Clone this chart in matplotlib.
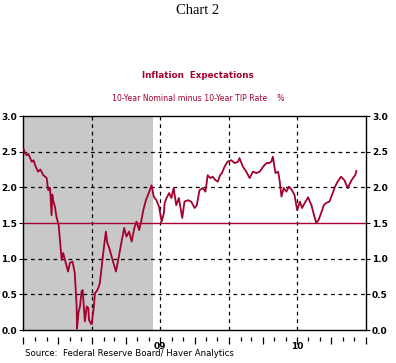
import pandas as pd
import matplotlib
matplotlib.use("Agg")
import matplotlib.pyplot as plt
import matplotlib.dates as mdates
import matplotlib.transforms as mtransforms

# 10-year nominal minus 10-year TIPS yield (%)
dates = [
    "2008-07-02", "2008-07-05", "2008-07-09", "2008-07-14", "2008-07-23", "2008-07-28",
    "2008-08-01", "2008-08-09", "2008-08-15", "2008-08-23", "2008-09-01", "2008-09-05",
    "2008-09-10", "2008-09-14", "2008-09-16", "2008-09-18", "2008-09-23", "2008-09-27",
    "2008-10-03", "2008-10-08", "2008-10-11", "2008-10-15", "2008-10-22", "2008-10-28",
    "2008-11-02", "2008-11-09", "2008-11-15", "2008-11-20", "2008-11-21", "2008-11-25",
    "2008-11-29", "2008-12-03", "2008-12-06", "2008-12-10", "2008-12-12", "2008-12-17",
    "2008-12-21", "2008-12-23", "2008-12-27", "2008-12-30", "2009-01-05", "2009-01-08",
    "2009-01-12", "2009-01-17", "2009-01-21", "2009-01-30", "2009-02-06", "2009-02-10",
    "2009-02-15", "2009-02-24", "2009-03-05", "2009-03-11", "2009-03-20", "2009-03-27",
    "2009-04-02", "2009-04-09", "2009-04-16", "2009-04-23", "2009-04-29", "2009-05-06",
    "2009-05-12", "2009-05-17", "2009-05-24", "2009-06-02", "2009-06-08", "2009-06-14",
    "2009-06-21", "2009-06-28", "2009-07-05", "2009-07-11", "2009-07-13", "2009-07-18",
    "2009-07-22", "2009-07-25", "2009-07-31", "2009-08-06", "2009-08-13", "2009-08-20",
    "2009-08-29", "2009-09-04", "2009-09-13", "2009-09-22", "2009-10-01", "2009-10-07",
    "2009-10-14", "2009-10-23", "2009-10-30", "2009-11-05", "2009-11-12", "2009-11-18",
    "2009-11-26", "2009-12-02", "2009-12-08", "2009-12-13", "2009-12-20", "2009-12-28",
    "2010-01-07", "2010-01-16", "2010-01-25", "2010-01-29", "2010-02-07", "2010-02-16",
    "2010-02-25", "2010-03-06", "2010-03-15", "2010-03-24", "2010-04-02", "2010-04-11",
    "2010-04-18", "2010-04-24", "2010-04-28", "2010-05-05", "2010-05-12", "2010-05-16",
    "2010-05-21", "2010-05-27", "2010-06-03", "2010-06-10", "2010-06-18", "2010-06-25",
    "2010-07-02", "2010-07-09", "2010-07-15", "2010-07-22", "2010-07-31", "2010-08-09",
    "2010-08-16", "2010-08-22", "2010-08-28", "2010-09-04", "2010-09-11", "2010-09-17",
    "2010-09-26", "2010-10-05", "2010-10-11", "2010-10-18", "2010-10-27", "2010-11-05",
    "2010-11-14", "2010-11-22", "2010-11-28", "2010-12-04", "2010-12-07",
]
spread = [
    2.53, 2.48, 2.45, 2.47, 2.36, 2.38,
    2.31, 2.22, 2.25, 2.17, 2.13, 1.96,
    1.99, 1.61, 1.90, 1.82, 1.73, 1.59,
    1.47, 1.17, 0.98, 1.08, 0.94, 0.82,
    0.94, 0.96, 0.80, 0.33, 0.02, 0.25,
    0.33, 0.54, 0.56, 0.28, 0.12, 0.33,
    0.31, 0.14, 0.10, 0.08, 0.33, 0.52,
    0.54, 0.59, 0.66, 1.08, 1.38, 1.22,
    1.15, 0.98, 0.82, 0.98, 1.24, 1.43,
    1.31, 1.38, 1.24, 1.43, 1.52, 1.40,
    1.54, 1.68, 1.82, 1.94, 2.03, 1.87,
    1.82, 1.73, 1.52, 1.64, 1.78, 1.85,
    1.89, 1.92, 1.85, 1.99, 1.75, 1.85,
    1.57, 1.80, 1.82, 1.80, 1.71, 1.75,
    1.96, 1.99, 1.94, 2.17, 2.13, 2.15,
    2.10, 2.08, 2.17, 2.20, 2.29, 2.36,
    2.38, 2.34, 2.36, 2.41, 2.29, 2.22,
    2.13, 2.22, 2.20, 2.22, 2.29, 2.34,
    2.34, 2.36, 2.43, 2.20, 2.22, 2.10,
    1.87, 1.99, 1.94, 2.01, 1.96, 1.89,
    1.68, 1.80, 1.71, 1.78, 1.86, 1.75,
    1.61, 1.50, 1.54, 1.64, 1.75, 1.78,
    1.80, 1.92, 2.01, 2.08, 2.15, 2.10,
    1.99, 2.08, 2.13, 2.17, 2.23,
]
recession = ("2008-07-01", "2009-06-12")
ref_level = 1.5
year_labels = ["09", "10"]
year_label_dates = ["2009-07-01", "2010-07-01"]

red = "#a3002d"
x = pd.to_datetime(dates)

fig = plt.figure(figsize=(3.96, 3.63), dpi=100)
ax = fig.add_axes([0.0593, 0.0909, 0.8642, 0.5895])

ax.axvspan(pd.Timestamp(recession[0]), pd.Timestamp(recession[1]), color="#c8c8c8", lw=0, zorder=0)
ax.plot(x, spread, color=red, lw=1.3, zorder=3)
ax.axhline(ref_level, color=red, lw=1.0, zorder=2)

ax.set_xlim(pd.Timestamp("2008-07-01"), pd.Timestamp("2011-01-01"))
ax.set_ylim(0, 3)

# dashed grid
for v in [0.5, 1.0, 2.0, 2.5]:
    ax.axhline(v, color="black", lw=0.9, ls=(0, (3, 3)), zorder=1)
for d in ["2009-01-01", "2009-07-01", "2010-01-01", "2010-07-01"]:
    ax.axvline(pd.Timestamp(d), color="black", lw=0.9, ls=(0, (3, 3)), zorder=1)

# y axis on both sides
ax.set_yticks([0, 0.5, 1.0, 1.5, 2.0, 2.5, 3.0])
ax.yaxis.set_major_formatter(plt.FuncFormatter(lambda v, p: f"{v:.1f}"))
ax.tick_params(axis="y", which="both", left=True, right=True, labelleft=True, labelright=True,
               direction="out", length=3, width=0.8, pad=1.5, labelsize=6.5)
for t in ax.yaxis.get_major_ticks():
    t.label1.set_fontweight("bold")
    t.label2.set_fontweight("bold")

# detached bottom tick row
ax.spines["bottom"].set_position(("outward", 5))
ax.spines["bottom"].set_visible(False)
ax.axhline(0, color="black", lw=1.0, zorder=4, clip_on=False)
ax.xaxis.set_major_locator(mdates.MonthLocator(bymonth=[1, 4, 7, 10]))
ax.xaxis.set_minor_locator(mdates.MonthLocator())
ax.xaxis.set_major_formatter(plt.NullFormatter())
ax.tick_params(axis="x", which="major", direction="out", length=5, width=0.9)
ax.tick_params(axis="x", which="minor", direction="out", length=3, width=0.9)
for s in ["left", "right", "top"]:
    ax.spines[s].set_linewidth(1.0)

trans = mtransforms.blended_transform_factory(ax.transData, ax.transAxes)
for lab, d in zip(year_labels, year_label_dates):
    ax.text(pd.Timestamp(d), -0.075, lab, transform=trans, ha="center", va="center",
            fontsize=6.5, fontweight="bold")

fig.text(0.5, 0.972, "Chart 2", ha="center", va="center", fontsize=10.5, family="Liberation Serif")
fig.text(0.5, 0.793, "Inflation  Expectations", ha="center", va="center", fontsize=6.3,
         fontweight="bold", color=red)
fig.text(0.5, 0.730, "10-Year Nominal minus 10-Year TIP Rate    %", ha="center", va="center",
         fontsize=5.6, color=red)
fig.text(0.063, 0.025, "Source:  Federal Reserve Board/ Haver Analytics", ha="left", va="center",
         fontsize=6.2)

fig.savefig("out.png", dpi=100)
